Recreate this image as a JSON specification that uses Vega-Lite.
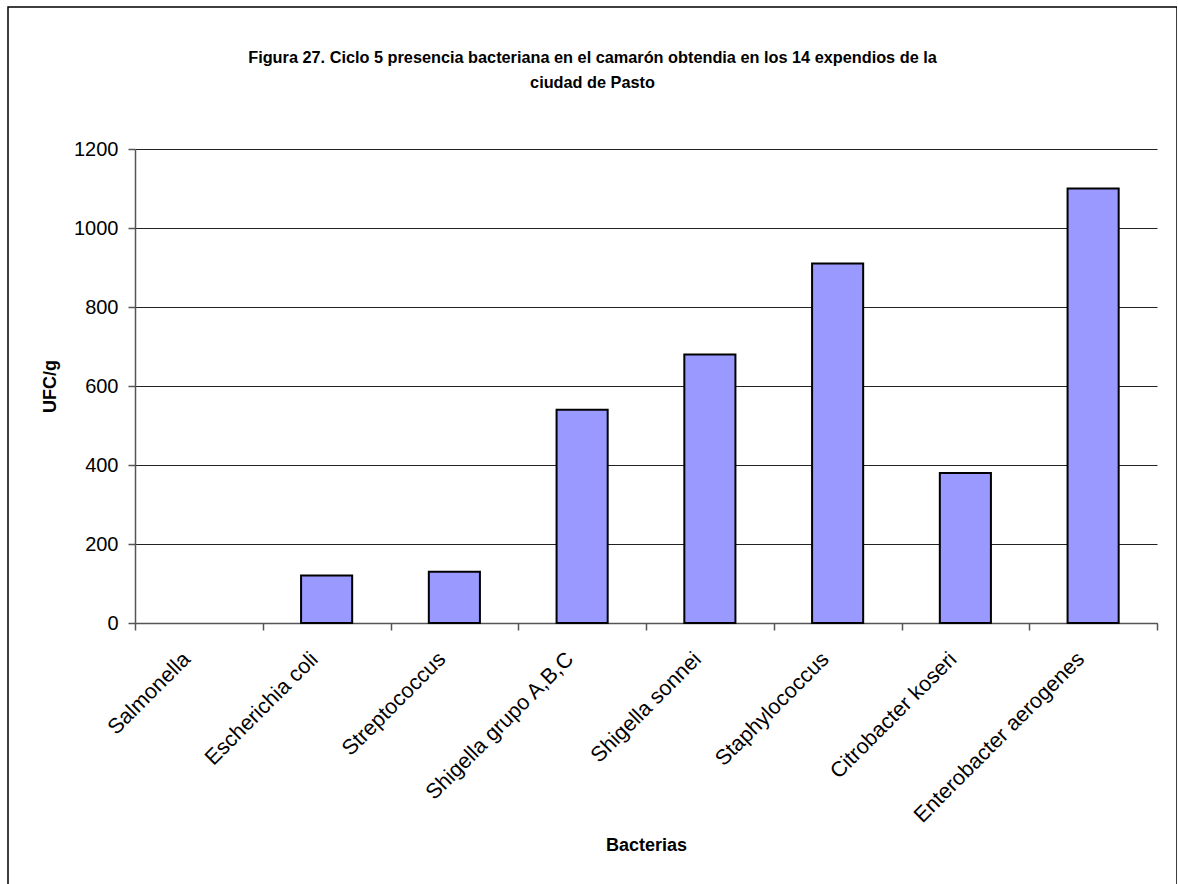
{
  "$schema": "https://vega.github.io/schema/vega-lite/v6.json",
  "autosize": "none",
  "padding": {"left": 8, "top": 7, "right": 0, "bottom": 0},
  "width": 1169,
  "height": 880,
  "background": "white",
  "view": {"stroke": "#000000", "strokeWidth": 1.5, "fill": "white"},
  "title": {
    "text": ["Figura 27. Ciclo 5 presencia bacteriana en el camarón obtendia en los 14 expendios de la", "ciudad de Pasto"],
    "anchor": "middle",
    "frame": "group",
    "font": "Liberation Sans",
    "fontSize": 16.3,
    "fontWeight": "bold",
    "color": "#000000",
    "lineHeight": 25,
    "baseline": "top",
    "offset": -84
  },
  "data": {
    "values": [
      {"bacteria": "Salmonella", "ufc": 0},
      {"bacteria": "Escherichia coli", "ufc": 120},
      {"bacteria": "Streptococcus", "ufc": 130},
      {"bacteria": "Shigella grupo A,B,C", "ufc": 540},
      {"bacteria": "Shigella sonnei", "ufc": 680},
      {"bacteria": "Staphylococcus", "ufc": 910},
      {"bacteria": "Citrobacter koseri", "ufc": 380},
      {"bacteria": "Enterobacter aerogenes", "ufc": 1100}
    ]
  },
  "mark": {"type": "bar", "width": {"band": 0.4}, "fill": "#9999FF", "strokeWidth": 2},
  "encoding": {
    "x": {
      "field": "bacteria",
      "type": "nominal",
      "sort": null,
      "scale": {"range": [127, 1149], "paddingInner": 0, "paddingOuter": 0},
      "axis": {
        "title": "Bacterias",
        "offset": -264,
        "tickBand": "extent",
        "labelAngle": -45,
        "labelAlign": "right",
        "labelBaseline": "top",
        "labelPadding": 18,
        "labelOffset": -20,
        "labelFontSize": 21.5,
        "titleY": 222,
        "titleBaseline": "middle"
      }
    },
    "y": {
      "field": "ufc",
      "type": "quantitative",
      "scale": {"domain": [0, 1200], "range": [616, 142], "nice": false},
      "axis": {
        "title": "UFC/g",
        "offset": -127,
        "values": [0, 200, 400, 600, 800, 1000, 1200],
        "format": "d",
        "grid": true,
        "labelPadding": 10,
        "titleAngle": 270,
        "titleX": -85,
        "titleY": 379,
        "titleAlign": "center",
        "titleBaseline": "middle"
      }
    },
    "stroke": {
      "condition": {"test": "datum.ufc === 0", "value": "transparent"},
      "value": "#000000"
    }
  },
  "config": {
    "font": "Liberation Sans",
    "axis": {
      "labelFont": "Liberation Sans",
      "labelFontSize": 20,
      "labelColor": "#000000",
      "labelLimit": 0,
      "titleFont": "Liberation Sans",
      "titleFontSize": 18,
      "titleFontWeight": "bold",
      "titleColor": "#000000",
      "domainColor": "#555555",
      "domainWidth": 1.5,
      "tickColor": "#555555",
      "tickSize": 7,
      "tickWidth": 1.5,
      "gridColor": "#222222",
      "gridWidth": 1,
      "labelOverlap": false,
      "labelBound": false
    }
  }
}
